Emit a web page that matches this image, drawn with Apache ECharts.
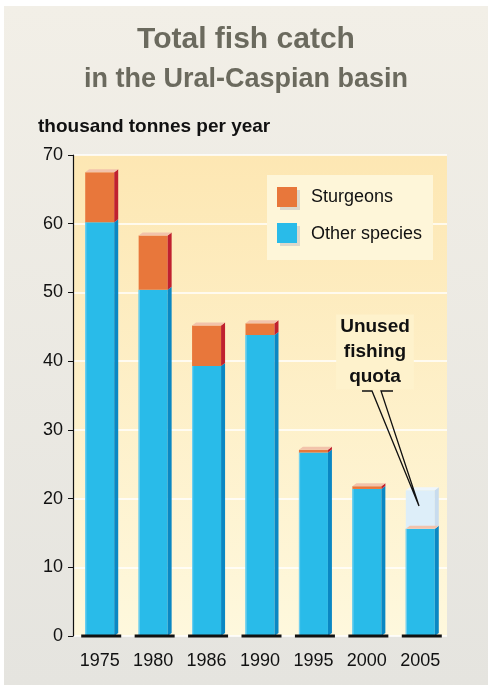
<!DOCTYPE html>
<html>
<head>
<meta charset="utf-8">
<script src="https://cdn.jsdelivr.net/npm/echarts@6/dist/echarts.min.js"></script>
<style>
  html, body { margin: 0; padding: 0; background: #fff; }
  .bg {
    position: absolute; left: 4px; top: 6px; width: 484px; height: 679px;
    background: linear-gradient(#f2efe7, #e5e4df);
  }
  #myChart { position: absolute; left: 0; top: 0; width: 492px; height: 685px; }
</style>
</head>
<body>
<div class="bg"></div>
<div id="myChart"></div>
<script>
// data, thousand tonnes
var years = ["1975", "1980", "1986", "1990", "1995", "2000", "2005"];
var otherSpecies = [60.2, 50.4, 39.3, 43.8, 26.7, 21.4, 15.6];
var sturgeons = [7.3, 7.9, 5.9, 1.7, 0.4, 0.4, 0];
var unusedQuota = [0, 0, 0, 0, 0, 0, 5.6];
var yTicks = [0, 10, 20, 30, 40, 50, 60, 70];

var font = "'Liberation Sans', Arial, sans-serif";
var mycharts = echarts.init(document.querySelector("#myChart"));

function renderBar(params, api) {
  var i = api.value(0);
  var base = api.coord([i, 0]);
  var cx = base[0], y0 = base[1];
  var o = api.value(1), s = api.value(2), q = api.value(3);
  var yO = api.coord([i, o])[1];
  var yS = api.coord([i, o + s])[1];
  var yQ = api.coord([i, o + s + q])[1];
  var l = cx - 14.5, r = cx + 14.5, d = 4, dy = 3;
  var kids = [];

  function block(yTop, yBot, front, side) {
    kids.push({ type: "rect", shape: { x: l, y: yTop, width: r - l, height: yBot - yTop }, style: { fill: front } });
    kids.push({ type: "polygon", shape: { points: [[r, yBot], [r, yTop], [r + d, yTop - dy], [r + d, yBot - dy]] }, style: { fill: side } });
  }
  function topFace(y, color) {
    kids.push({ type: "polygon", shape: { points: [[l, y], [r, y], [r + d, y - dy], [l + d, y - dy]] }, style: { fill: color } });
  }

  block(yO, y0, "#29bbe9", "#0a87c3");
  kids.push({ type: "rect", shape: { x: l, y: yO, width: 1.2, height: y0 - yO }, style: { fill: "#6fd0f0" } });
  if (s > 0) {
    block(yS, yO, "#e8773b", "#c0212f");
  }
  if (q > 0) {
    block(yQ, yS, "#ddeef9", "#c8dcee");
    topFace(yQ, "#eef6fc");
  }
  topFace(yS, "#f2c3ab");
  // black foot under each bar
  kids.push({ type: "line", shape: { x1: cx - 18.5, y1: y0, x2: cx + 21.5, y2: y0 }, style: { stroke: "#111", lineWidth: 2.8 } });
  return { type: "group", children: kids };
}

var option = {
  animation: false,
  grid: {
    left: 73, right: 45, top: 155, bottom: 49,
    show: true, borderWidth: 0,
    backgroundColor: new echarts.graphic.LinearGradient(0, 0, 0, 1, [
      { offset: 0, color: "#fde7b3" },
      { offset: 1, color: "#fef8dd" }
    ])
  },
  xAxis: {
    type: "category",
    data: years,
    axisLine: { show: false },
    axisTick: { show: false },
    axisLabel: { fontSize: 18, color: "#111", fontFamily: font, margin: 16 }
  },
  yAxis: {
    type: "value",
    min: 0, max: 70, interval: 10,
    axisLine: { show: true, lineStyle: { color: "#111", width: 1.2 } },
    axisTick: { show: true, length: 5, lineStyle: { color: "#111" } },
    axisLabel: {
      fontSize: 18, color: "#111", fontFamily: font, margin: 10,
      formatter: function (v) { return yTicks.indexOf(v) >= 0 ? String(v) : ""; }
    },
    splitLine: { show: true, lineStyle: { color: "#ffffff", width: 1.5 } }
  },
  series: [{
    type: "custom",
    renderItem: renderBar,
    encode: { x: 0, y: 1 },
    data: years.map(function (y, i) { return [i, otherSpecies[i], sturgeons[i], unusedQuota[i]]; }),
    z: 3
  }],
  graphic: [
    { type: "text", left: "center", top: 25, style: { text: "Total fish catch", font: "bold 30px " + font, fill: "#6b6a5e" } },
    { type: "text", left: "center", top: 66, style: { text: "in the Ural-Caspian basin", font: "bold 27px " + font, fill: "#6b6a5e" } },
    { type: "text", left: 38, top: 117, style: { text: "thousand tonnes per year", font: "bold 19px " + font, fill: "#111" } },
    // legend
    { type: "rect", shape: { x: 267, y: 175, width: 166, height: 85 }, style: { fill: "#fef6d9" }, z: 10 },
    { type: "rect", shape: { x: 280, y: 190, width: 20, height: 20 }, style: { fill: "#dcd8cc" }, z: 10 },
    { type: "rect", shape: { x: 277, y: 187, width: 20, height: 20 }, style: { fill: "#e8773b" }, z: 11 },
    { type: "text", x: 311, y: 197, style: { text: "Sturgeons", font: "18px " + font, fill: "#111", verticalAlign: "middle" }, z: 11 },
    { type: "rect", shape: { x: 280, y: 226, width: 20, height: 20 }, style: { fill: "#dcd8cc" }, z: 10 },
    { type: "rect", shape: { x: 277, y: 223, width: 20, height: 20 }, style: { fill: "#29bbe9" }, z: 11 },
    { type: "text", x: 311, y: 234, style: { text: "Other species", font: "18px " + font, fill: "#111", verticalAlign: "middle" }, z: 11 },
    // annotation
    { type: "text", x: 375, y: 352, style: {
        text: "Unused\nfishing\nquota", font: "bold 19px " + font, fill: "#111",
        align: "center", verticalAlign: "middle", lineHeight: 25,
        backgroundColor: "#fef2cc", padding: [0, 4]
      }, z: 10 },
    { type: "polyline", shape: { points: [[362, 391], [372, 391], [419, 506], [381, 391], [393, 391]] },
      style: { stroke: "#111", lineWidth: 1.3, fill: null }, z: 10 }
  ]
};

mycharts.setOption(option);
</script>
</body>
</html>
